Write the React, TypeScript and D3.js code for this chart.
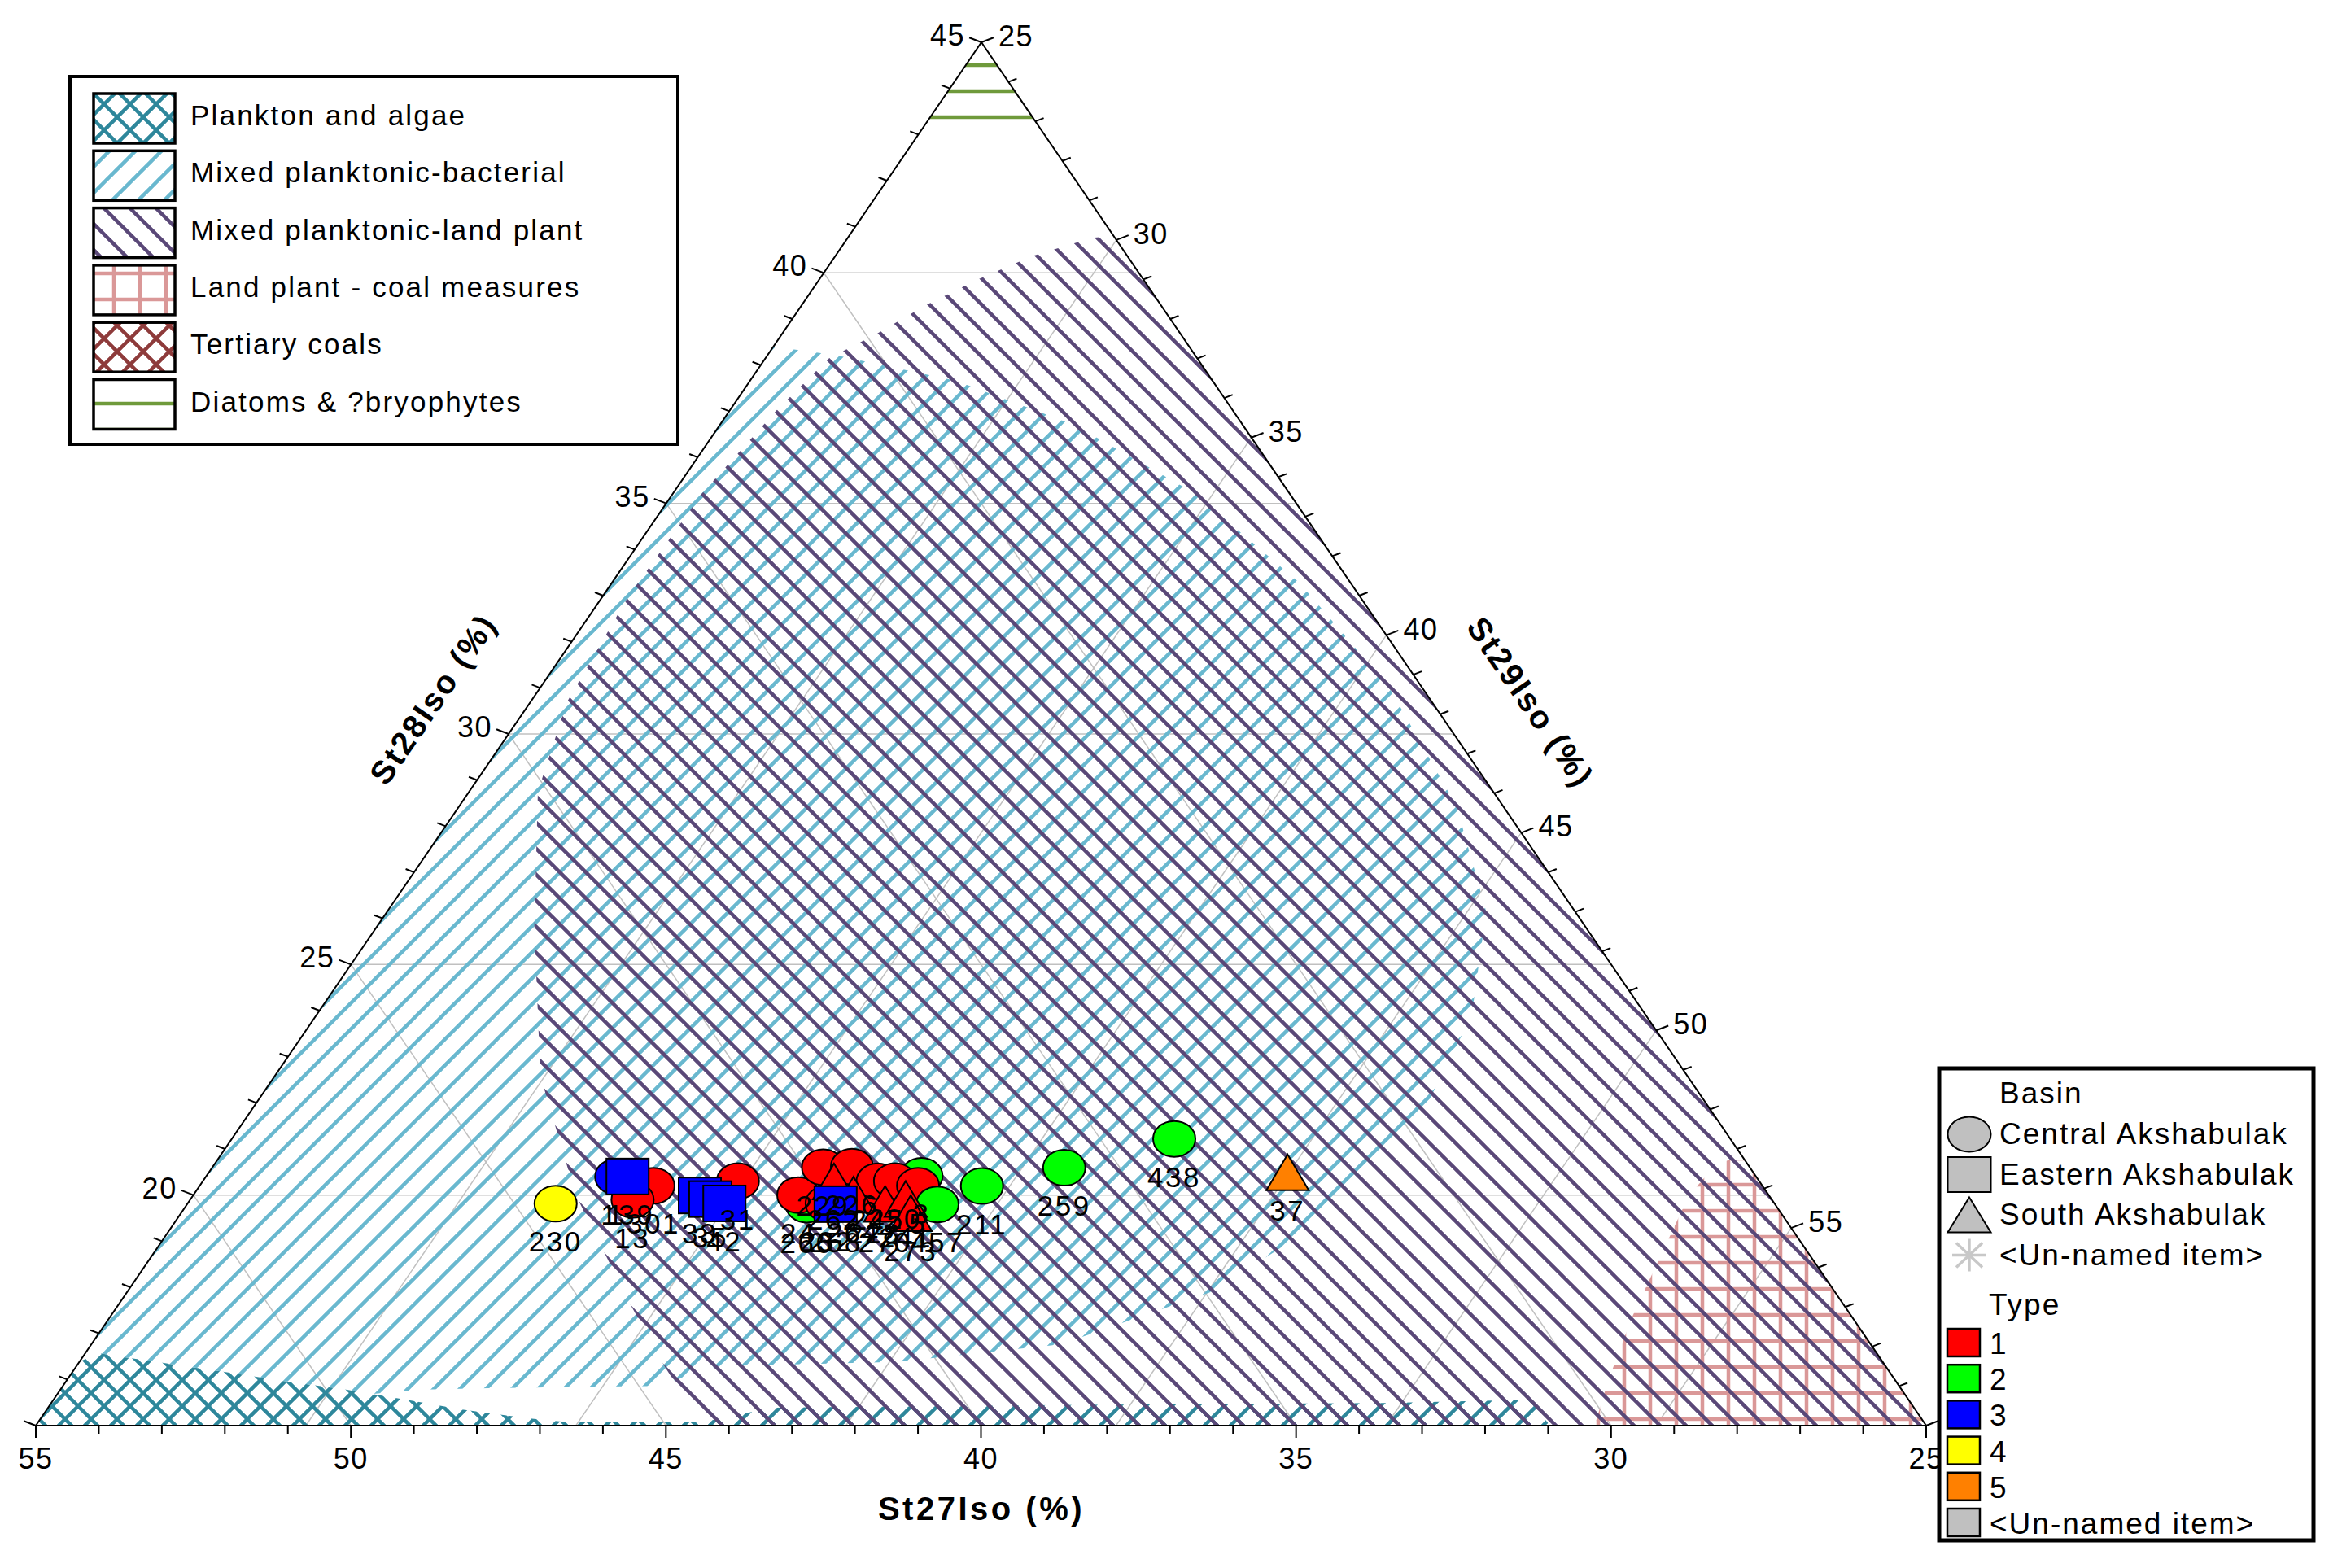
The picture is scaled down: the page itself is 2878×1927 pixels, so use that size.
import * as d3 from "d3";

// ---------- data ----------
const regionNames = [
  "Plankton and algae",
  "Mixed planktonic-bacterial",
  "Mixed planktonic-land plant",
  "Land plant - coal measures",
  "Tertiary coals",
  "Diatoms & ?bryophytes",
];

// region outlines, [St27, St28]
const planktonAlgae: [number, number][] = [
  [55, 15], [53.61, 16.39], [53.21, 16.57], [52.83, 16.48], [52.29, 16.36], [51.37, 16.15],
  [50.6, 15.97], [49.69, 15.78], [48.84, 15.56], [48.06, 15.35], [47.11, 15.16], [46.49, 15.07],
  [44.41, 15.07], [43.11, 15.39], [37.26, 15.46], [33.37, 15.49], [31.01, 15.56], [30.97, 15],
];
const mixedBacterial: [number, number][] = [
  [31.6, 38.4], [30.69, 38.21], [29.07, 37.66], [27.66, 36.69], [26.5, 35.22], [25.81, 33.28],
  [25.52, 31.02], [25.74, 28.43], [26.41, 26.15], [27.77, 23.89], [29.74, 21.62], [32.21, 19.52],
  [34.92, 17.89], [37.86, 16.76], [40.66, 16.38], [43.55, 16.29], [44.7, 15.86], [47.41, 15.81],
  [48.47, 15.78], [49.3, 15.69], [49.69, 15.78], [50.6, 15.97], [51.37, 16.15], [52.29, 16.36],
  [52.83, 16.48], [53.21, 16.57], [53.61, 16.39],
];
const mixedLandPlant: [number, number][] = [
  [30.84, 38.15], [29.82, 38.68], [28.73, 39.3], [27.62, 39.86], [26.52, 40.36], [25.36, 40.76],
  [25, 40.8], [25, 15], [44.42, 15], [44.38, 16.27], [44.24, 17.74], [43.93, 20.01], [43.2, 22.59],
  [41.67, 25.84], [40.16, 28.75], [38.73, 30.69], [36.63, 32.96], [34.32, 35.22], [32.25, 37.01],
];
const coalMeasures: [number, number][] = [
  [30.26, 15], [29.6, 15.92], [28.51, 17.33], [27.4, 18.65], [26.28, 19.98], [25.59, 20.59],
  [25.24, 20.77], [25, 20.77], [25, 15],
];
const diatoms: [number, number][] = [[25, 45], [26.73, 43.27], [25, 43.27]];

const basinNames = ["Central Akshabulak", "Eastern Akshabulak", "South Akshabulak", "<Un-named item>"];
const typeNames = ["1", "2", "3", "4", "5", "<Un-named item>"];
const typeColors = ["#ff0000", "#00ff00", "#0000ff", "#ffff00", "#ff8000", "#c0c0c0"];

// samples (basin: 0 central, 1 eastern, 2 south)
const sampleIds = ["266", "3", "230", "1", "139", "301", "13", "33", "35", "42", "31", "24", "229", "226", "232", "228", "245", "220", "5", "457", "262", "264", "270", "241", "273", "258", "211", "259", "438", "37"];
const sampleBasin = [0, 0, 0, 0, 1, 0, 0, 1, 1, 1, 0, 0, 0, 0, 0, 0, 0, 0, 0, 0, 2, 2, 2, 2, 2, 1, 0, 0, 0, 2];
const sampleType = [2, 2, 4, 3, 3, 1, 1, 3, 3, 3, 1, 1, 1, 1, 1, 1, 1, 1, 1, 2, 1, 1, 1, 1, 1, 3, 2, 2, 2, 5];
const st27 = [40.4, 38.2, 44.3, 43.1, 42.9, 42.6, 43.1, 42.0, 41.8, 41.6, 41.2, 40.4, 39.7, 39.2, 40.0, 39.2, 39.0, 38.7, 38.4, 38.3, 39.7, 39.5, 39.1, 38.7, 38.8, 39.9, 37.4, 35.9, 33.8, 32.4];
const st28 = [19.8, 20.4, 19.8, 20.4, 20.4, 20.2, 19.9, 20.0, 19.9, 19.8, 20.3, 20.0, 20.6, 20.6, 19.8, 20.0, 20.3, 20.3, 20.2, 19.8, 20.3, 20.0, 19.8, 19.9, 19.6, 19.8, 20.2, 20.6, 21.2, 20.5];
const st29 = [36.5, 38.2, 31.8, 32.6, 32.8, 33.4, 33.2, 34.4, 34.6, 34.9, 34.9, 36.2, 36.3, 36.8, 36.8, 37.6, 37.5, 37.8, 38.3, 38.9, 36.7, 37.2, 37.9, 38.2, 38.5, 37.0, 39.5, 40.8, 42.4, 45.0];

const st27Ticks = d3.range(25, 56);
const st28Ticks = d3.range(15, 46);
const st29Ticks = d3.range(25, 61);
const st27Grid = [30, 35, 40, 45, 50];
const st28Grid = [20, 25, 30, 35, 40];
const st29Grid = [30, 35, 40, 45, 50, 55];

// ---------- layout ----------
const W = 2878;
const H = 1927;
const TOP = [1206, 52];
const LEFT = [44, 1752];
const RIGHT = [2367, 1752];
const FONT = "'Liberation Sans', Arial, Helvetica, sans-serif";

const teal = "#2e879b";
const lightBlue = "#69b8cf";
const purple = "#5a4878";
const pink = "#da9898";
const darkRed = "#8e3b3b";
const green = "#6f9a3b";

// weights of the three corners
const w27 = d3.scaleLinear().domain([25, 55]).range([0, 1]); // bottom-left
const w28 = d3.scaleLinear().domain([15, 45]).range([0, 1]); // top
const w29 = d3.scaleLinear().domain([25, 60]).range([0, 1]); // bottom-right

const bary = (u: number, a: number, b: number): [number, number] => [
  u * TOP[0] + a * LEFT[0] + b * RIGHT[0],
  u * TOP[1] + a * LEFT[1] + b * RIGHT[1],
];
const project2 = (c27: number, c28: number) => {
  const u = w28(c28);
  const a = w27(c27);
  return bary(u, a, 1 - u - a);
};
const project3 = (c27: number, c28: number, c29: number) => {
  const u = w28(c28);
  const a = w27(c27);
  const b = w29(c29);
  const s = u + a + b;
  return bary(u / s, a / s, b / s);
};

const outline = d3.line().curve(d3.curveLinearClosed);
const regionPath = (pts: [number, number][]) => outline(pts.map((p) => project2(p[0], p[1]))) || "";

const edgeAngle = (Math.atan2(LEFT[1] - TOP[1], TOP[0] - LEFT[0]) * 180) / Math.PI;

const Marker = ({ shape, x, y, fill, rx = 26, ry = 22 }: any) => {
  if (shape === 0) return <ellipse cx={x} cy={y} rx={rx} ry={ry} fill={fill} stroke="#000" strokeWidth={2} />;
  if (shape === 1) return <rect x={x - rx} y={y - ry} width={rx * 2} height={ry * 2} fill={fill} stroke="#000" strokeWidth={2} />;
  return (
    <path
      d={`M${x},${y - ry}L${x + rx},${y + ry}L${x - rx},${y + ry}Z`}
      fill={fill}
      stroke="#000"
      strokeWidth={2}
    />
  );
};

const Patterns = () => (
  <defs>
    <pattern id="pTeal" patternUnits="userSpaceOnUse" width={32} height={32}>
      <path d="M-8,8L8,-8M0,32L32,0M24,40L40,24M0,0L32,32M-8,24L8,40M24,-8L40,8" stroke={teal} strokeWidth={4.5} />
    </pattern>
    <pattern id="pBlue" patternUnits="userSpaceOnUse" width={32} height={32}>
      <path d="M-8,8L8,-8M0,32L32,0M24,40L40,24" stroke={lightBlue} strokeWidth={4.5} />
    </pattern>
    <pattern id="pPurple" patternUnits="userSpaceOnUse" width={32} height={32}>
      <path d="M0,0L32,32M-8,24L8,40M24,-8L40,8" stroke={purple} strokeWidth={4.5} />
    </pattern>
    <pattern id="pPink" patternUnits="userSpaceOnUse" width={32} height={32}>
      <path d="M12,0V32M0,16H32" stroke={pink} strokeWidth={4.5} />
    </pattern>
    <pattern id="pRed" patternUnits="userSpaceOnUse" width={32} height={32}>
      <path d="M-8,8L8,-8M0,32L32,0M24,40L40,24M0,0L32,32M-8,24L8,40M24,-8L40,8" stroke={darkRed} strokeWidth={4.5} />
    </pattern>
    <pattern id="pGreen" patternUnits="userSpaceOnUse" width={32} height={32}>
      <path d="M0,16H32" stroke={green} strokeWidth={4.5} />
    </pattern>
    <clipPath id="triClip">
      <path d={`M${TOP[0]},${TOP[1]}L${LEFT[0]},${LEFT[1]}L${RIGHT[0]},${RIGHT[1]}Z`} />
    </clipPath>
  </defs>
);

const regionFills = ["url(#pTeal)", "url(#pBlue)", "url(#pPurple)", "url(#pPink)", "url(#pRed)", "url(#pGreen)"];

export default function App() {
  const tickDirL = [-0.93, -0.36];
  const tickDirR = [0.93, -0.36];

  // grid lines
  const grid: [number, number][][] = [];
  st28Grid.forEach((v) => {
    const u = w28(v);
    grid.push([bary(u, 1 - u, 0), bary(u, 0, 1 - u)]);
  });
  st27Grid.forEach((v) => {
    const a = w27(v);
    grid.push([bary(0, a, 1 - a), bary(1 - a, a, 0)]);
  });
  st29Grid.forEach((v) => {
    const b = w29(v);
    grid.push([bary(0, 1 - b, b), bary(1 - b, 0, b)]);
  });

  const samples = sampleIds.map((id, i) => {
    const [x, y] = project3(st27[i], st28[i], st29[i]);
    return { id, x, y, basin: sampleBasin[i], color: typeColors[sampleType[i] - 1] };
  });
  const basinOrder = [0, 2, 1];
  const ordered = basinOrder.flatMap((b) => samples.filter((s) => s.basin === b));
  const shapeOf = (basin: number) => (basin === 0 ? 0 : basin === 1 ? 1 : 2);

  const legendRowsTop = d3.range(6).map((i) => 115 + i * 70.3);
  const typeRowsTop = d3.range(6).map((i) => 1633 + i * 44.2);

  return (
    <svg width={W} height={H} style={{ position: "absolute", left: 0, top: 0, background: "#fff" }} fontFamily={FONT}>
      <Patterns />
      <rect width={W} height={H} fill="#fff" />

      {/* grid */}
      <g clipPath="url(#triClip)">
        {grid.map((g, i) => (
          <line key={i} x1={g[0][0]} y1={g[0][1]} x2={g[1][0]} y2={g[1][1]} stroke="#c0c0c0" strokeWidth={1.5} />
        ))}
      </g>

      {/* fields */}
      <g clipPath="url(#triClip)">
        <path d={regionPath(planktonAlgae)} fill={regionFills[0]} />
        <path d={regionPath(mixedBacterial)} fill={regionFills[1]} />
        <path d={regionPath(coalMeasures)} fill={regionFills[3]} />
        <path d={regionPath(mixedLandPlant)} fill={regionFills[2]} />
        <path d={regionPath(diatoms)} fill={regionFills[5]} />
      </g>

      {/* triangle */}
      <path
        d={`M${TOP[0]},${TOP[1]}L${LEFT[0]},${LEFT[1]}L${RIGHT[0]},${RIGHT[1]}Z`}
        fill="none"
        stroke="#000"
        strokeWidth={2}
      />

      {/* left axis: St28 */}
      {st28Ticks.map((v) => {
        const u = w28(v);
        const [x, y] = bary(u, 1 - u, 0);
        const major = v % 5 === 0;
        const len = major ? 16 : 11;
        return (
          <g key={"l" + v}>
            <line x1={x} y1={y} x2={x + tickDirL[0] * len} y2={y + tickDirL[1] * len} stroke="#000" strokeWidth={2} />
            {major && v > 15 && (
              <text x={x - 20} y={y + 4} textAnchor="end" fontSize={36} letterSpacing={1.5}>
                {v}
              </text>
            )}
          </g>
        );
      })}

      {/* right axis: St29 */}
      {st29Ticks.map((v) => {
        const b = w29(v);
        const [x, y] = bary(1 - b, 0, b);
        const major = v % 5 === 0;
        const len = major ? 16 : 11;
        return (
          <g key={"r" + v}>
            <line x1={x} y1={y} x2={x + tickDirR[0] * len} y2={y + tickDirR[1] * len} stroke="#000" strokeWidth={2} />
            {major && (
              <text x={x + 21} y={y + 5} textAnchor="start" fontSize={36} letterSpacing={1.5}>
                {v}
              </text>
            )}
          </g>
        );
      })}

      {/* bottom axis: St27 */}
      {st27Ticks.map((v) => {
        const a = w27(v);
        const [x, y] = bary(0, a, 1 - a);
        const major = v % 5 === 0;
        return (
          <g key={"b" + v}>
            <line x1={x} y1={y} x2={x} y2={y + (major ? 15 : 10)} stroke="#000" strokeWidth={2} />
            {major && (
              <text x={x} y={1805} textAnchor="middle" fontSize={36} letterSpacing={1.5}>
                {v}
              </text>
            )}
          </g>
        );
      })}

      {/* axis titles */}
      <text x={1206} y={1868} textAnchor="middle" fontSize={40} fontWeight="bold" letterSpacing={3.5}>
        St27Iso (%)
      </text>
      <text
        transform={`translate(532,859) rotate(${-edgeAngle})`}
        textAnchor="middle"
        dominantBaseline="central"
        fontSize={40}
        fontWeight="bold"
        letterSpacing={2.5}
      >
        St28Iso (%)
      </text>
      <text
        transform={`translate(1881,863) rotate(${edgeAngle})`}
        textAnchor="middle"
        dominantBaseline="central"
        fontSize={40}
        fontWeight="bold"
        letterSpacing={2.5}
      >
        St29Iso (%)
      </text>

      {/* samples */}
      {ordered.map((s, i) => (
        <Marker key={"m" + i} shape={shapeOf(s.basin)} x={s.x} y={s.y} fill={s.color} />
      ))}
      {ordered.map((s, i) => (
        <text key={"t" + i} x={s.x} y={s.y + 59} textAnchor="middle" fontSize={35} letterSpacing={2.5}>
          {s.id}
        </text>
      ))}

      {/* field legend */}
      <rect x={86} y={94} width={747} height={452} fill="#fff" stroke="#000" strokeWidth={4} />
      {regionNames.map((name, i) => (
        <g key={name}>
          <rect x={115} y={legendRowsTop[i]} width={100} height={61} fill={regionFills[i]} stroke="#000" strokeWidth={3.5} />
          <text x={234} y={legendRowsTop[i] + 39} fontSize={35} letterSpacing={2.2}>
            {name}
          </text>
        </g>
      ))}

      {/* symbol legend */}
      <rect x={2383} y={1313} width={460} height={580} fill="#fff" stroke="#000" strokeWidth={5} />
      <text x={2457} y={1356} fontSize={37} letterSpacing={2}>
        Basin
      </text>
      {basinNames.map((name, i) => {
        const cy = 1394 + i * 49.5;
        return (
          <g key={name}>
            {i < 3 ? (
              <Marker shape={i === 0 ? 0 : i === 1 ? 1 : 2} x={2420} y={cy} fill="#c0c0c0" rx={26.5} ry={21.5} />
            ) : (
              <g stroke="#c8c8c8" strokeWidth={3.5}>
                <line x1={2399} y1={cy} x2={2441} y2={cy} />
                <line x1={2420} y1={cy - 20} x2={2420} y2={cy + 20} />
                <line x1={2404} y1={cy - 15} x2={2436} y2={cy + 15} />
                <line x1={2404} y1={cy + 15} x2={2436} y2={cy - 15} />
              </g>
            )}
            <text x={2457} y={cy + 12} fontSize={37} letterSpacing={2}>
              {name}
            </text>
          </g>
        );
      })}
      <text x={2444} y={1616} fontSize={37} letterSpacing={2}>
        Type
      </text>
      {typeNames.map((name, i) => (
        <g key={"ty" + i}>
          <rect x={2393} y={typeRowsTop[i]} width={40} height={34} fill={typeColors[i]} stroke="#000" strokeWidth={2.5} />
          <text x={2445} y={typeRowsTop[i] + 31} fontSize={37} letterSpacing={2}>
            {name}
          </text>
        </g>
      ))}
    </svg>
  );
}
